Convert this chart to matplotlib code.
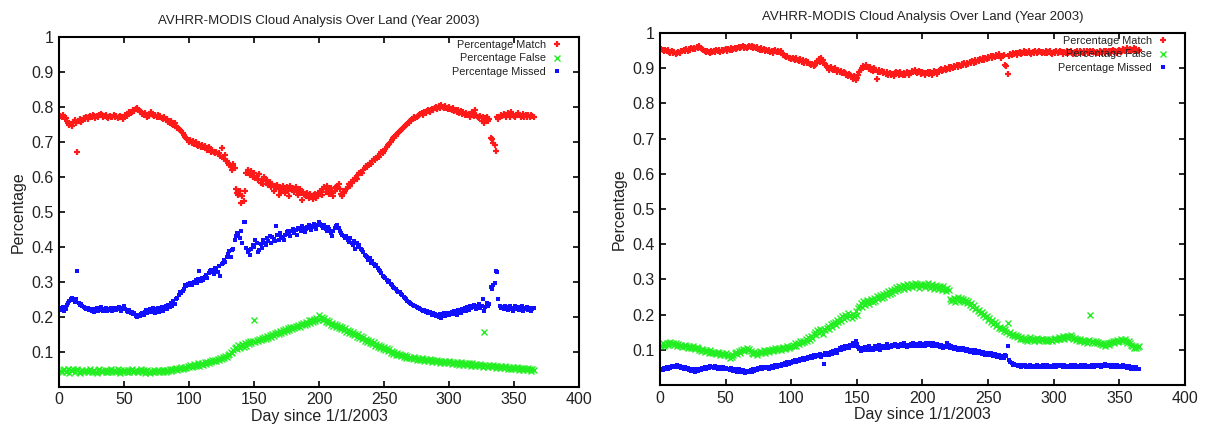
import numpy as np
import matplotlib
matplotlib.use("Agg")
import matplotlib.pyplot as plt

plt.rcParams['font.family'] = ['Liberation Sans', 'DejaVu Sans']

# daily fractions (x1000), day 1..365, land analysis, first run
left_match = [
    775, 770, 778, 772, 768, 760, 755, 748, 752, 745, 758, 762, 755, 670, 760, 765, 758, 762, 768, 765,
    770, 766, 772, 775, 770, 778, 774, 768, 775, 772, 778, 780, 776, 770, 774, 778, 772, 768, 775, 770,
    772, 776, 770, 774, 768, 772, 775, 770, 766, 772, 778, 775, 780, 784, 782, 786, 790, 788, 795, 798,
    792, 788, 785, 780, 776, 782, 778, 772, 775, 780, 784, 778, 774, 778, 772, 776, 770, 774, 768, 765,
    770, 762, 765, 758, 755, 760, 752, 748, 754, 745, 740, 738, 735, 730, 725, 720, 715, 710, 705, 700,
    704, 698, 702, 695, 700, 692, 688, 694, 686, 690, 684, 688, 682, 678, 684, 676, 672, 678, 670, 668,
    672, 664, 668, 660, 682, 656, 650, 662, 645, 640, 635, 628, 620, 638, 625, 565, 555, 548, 560, 525,
    545, 530, 560, 610, 620, 612, 605, 618, 600, 610, 596, 602, 590, 608, 584, 595, 580, 600, 588, 592,
    578, 585, 570, 580, 560, 574, 566, 578, 548, 572, 560, 575, 565, 555, 570, 560, 545, 575, 562, 568,
    556, 572, 560, 548, 565, 555, 535, 558, 548, 545, 555, 540, 550, 545, 538, 548, 552, 540, 545, 555,
    560, 548, 565, 570, 558, 575, 562, 550, 568, 556, 545, 560, 570, 575, 580, 565, 550, 545, 555, 560,
    565, 570, 580, 575, 585, 590, 588, 598, 595, 605, 610, 615, 612, 620, 625, 630, 628, 635, 640, 638,
    645, 650, 648, 655, 660, 658, 665, 670, 668, 675, 680, 685, 690, 695, 700, 705, 710, 715, 718, 722,
    725, 730, 735, 738, 742, 745, 748, 752, 755, 760, 762, 765, 770, 768, 772, 775, 778, 780, 782, 778,
    785, 782, 788, 790, 786, 792, 795, 790, 798, 800, 795, 802, 798, 805, 800, 796, 802, 798, 794, 800,
    795, 790, 796, 788, 792, 785, 790, 782, 788, 780, 785, 778, 782, 776, 780, 772, 778, 785, 775, 790,
    778, 772, 768, 775, 760, 770, 755, 768, 772, 760, 765, 712, 708, 698, 690, 675, 770, 765, 772, 778,
    774, 780, 776, 770, 782, 778, 772, 786, 780, 775, 770, 778, 782, 776, 770, 774, 780, 772, 776, 770,
    778, 772, 776, 774, 770,
]
left_false = [
    45, 42, 48, 50, 44, 46, 52, 40, 48, 45, 50, 43, 47, 52, 44, 40, 46, 49, 42, 45,
    48, 43, 46, 50, 42, 45, 48, 44, 41, 47, 50, 45, 42, 46, 49, 44, 47, 43, 46, 50,
    44, 48, 42, 46, 50, 45, 41, 47, 44, 49, 46, 42, 48, 44, 47, 50, 43, 46, 49, 45,
    42, 46, 50, 44, 48, 41, 45, 49, 43, 40, 46, 44, 48, 42, 45, 47, 43, 46, 49, 44,
    47, 43, 48, 45, 50, 46, 52, 48, 50, 55, 49, 53, 51, 56, 50, 54, 58, 55, 60, 57,
    62, 58, 60, 65, 59, 63, 67, 61, 65, 68, 64, 70, 66, 72, 68, 74, 70, 76, 73, 78,
    75, 80, 77, 82, 79, 85, 82, 88, 85, 92, 95, 100, 98, 105, 110, 115, 108, 120, 112, 118,
    122, 115, 125, 118, 128, 122, 130, 125, 132, 190, 128, 135, 130, 138, 133, 140, 136, 142, 138, 145,
    140, 148, 143, 150, 146, 155, 150, 158, 152, 160, 155, 162, 158, 165, 160, 168, 162, 170, 165, 172,
    168, 175, 170, 178, 172, 180, 176, 183, 178, 186, 180, 190, 184, 192, 186, 195, 188, 198, 192, 205,
    195, 200, 190, 196, 186, 192, 182, 188, 178, 184, 175, 180, 172, 178, 168, 174, 165, 170, 162, 168,
    158, 164, 155, 160, 150, 156, 148, 152, 144, 150, 140, 146, 136, 142, 132, 138, 128, 134, 125, 130,
    122, 127, 118, 124, 115, 120, 112, 117, 108, 114, 105, 110, 102, 107, 98, 104, 95, 100, 92, 97,
    90, 94, 88, 92, 85, 90, 84, 88, 82, 86, 84, 80, 85, 82, 78, 84, 80, 76, 82, 79,
    75, 80, 77, 73, 79, 76, 72, 78, 74, 70, 76, 73, 69, 75, 72, 68, 74, 71, 67, 73,
    70, 66, 72, 69, 65, 71, 68, 64, 70, 67, 63, 69, 66, 62, 68, 65, 61, 67, 64, 60,
    66, 63, 59, 65, 62, 58, 158, 64, 61, 57, 63, 60, 56, 62, 59, 55, 61, 58, 54, 60,
    57, 53, 59, 56, 52, 58, 55, 51, 57, 54, 50, 56, 53, 49, 55, 52, 48, 54, 51, 47,
    53, 50, 46, 52, 49,
]
left_missed = [
    225, 220, 228, 218, 222, 235, 240, 245, 250, 255, 248, 242, 250, 330, 240, 235, 238, 232, 228, 225,
    222, 226, 220, 224, 218, 222, 215, 220, 225, 218, 222, 228, 220, 216, 222, 226, 218, 224, 220, 225,
    218, 222, 226, 220, 224, 228, 222, 218, 225, 230, 222, 218, 215, 220, 212, 215, 208, 210, 202, 200,
    205, 202, 208, 210, 206, 215, 220, 212, 218, 222, 215, 225, 218, 212, 222, 226, 215, 220, 228, 218,
    225, 230, 222, 235, 228, 240, 232, 245, 238, 250, 255, 262, 270, 268, 275, 280, 290, 288, 295, 292,
    298, 290, 296, 300, 305, 298, 308, 330, 302, 310, 305, 315, 320, 312, 325, 330, 335, 328, 322, 340,
    335, 328, 345, 318, 350, 355, 362, 358, 370, 380, 388, 372, 390, 395, 420, 430, 440, 435, 425, 445,
    410, 472, 470, 398, 385, 390, 378, 395, 405, 400, 420, 410, 385, 392, 408, 396, 420, 412, 405, 425,
    418, 430, 410, 428, 422, 418, 460, 435, 420, 440, 428, 425, 420, 435, 442, 445, 438, 430, 445, 450,
    440, 448, 435, 455, 450, 445, 460, 455, 442, 450, 458, 462, 455, 448, 460, 465, 458, 452, 462, 470,
    465, 460, 455, 462, 450, 445, 458, 452, 440, 430, 445, 455, 460, 462, 455, 445, 440, 435, 430, 425,
    430, 420, 415, 425, 410, 405, 418, 395, 412, 400, 405, 395, 390, 385, 378, 375, 370, 362, 368, 355,
    360, 350, 345, 348, 340, 335, 330, 325, 318, 315, 310, 305, 300, 302, 295, 290, 285, 282, 280, 275,
    272, 270, 265, 262, 258, 255, 250, 245, 242, 240, 238, 235, 232, 230, 228, 226, 225, 222, 220, 218,
    220, 215, 218, 212, 215, 210, 205, 212, 208, 202, 205, 200, 208, 198, 204, 210, 202, 206, 212, 205,
    210, 215, 208, 218, 212, 205, 220, 214, 210, 222, 216, 225, 218, 228, 220, 232, 225, 230, 235, 228,
    222, 232, 238, 225, 230, 250, 218, 228, 240, 232, 236, 285, 280, 292, 298, 330, 328, 250, 232, 225,
    228, 222, 230, 226, 220, 228, 232, 224, 218, 226, 230, 222, 228, 220, 224, 230, 218, 226, 222, 228,
    220, 225, 218, 222, 226,
]

# second run
right_match = [
    955, 952, 950, 953, 948, 951, 946, 944, 948, 942, 945, 940, 944, 946, 942, 948, 950, 952, 948, 954,
    950, 955, 952, 957, 954, 958, 955, 960, 956, 962, 958, 955, 952, 948, 945, 950, 946, 942, 948, 945,
    950, 946, 952, 948, 951, 947, 953, 949, 952, 955, 950, 954, 951, 956, 952, 955, 958, 954, 957, 960,
    956, 959, 962, 958, 961, 957, 960, 963, 959, 962, 958, 961, 956, 959, 955, 952, 956, 951, 954, 950,
    953, 948, 952, 946, 950, 944, 948, 952, 946, 950, 945, 948, 942, 938, 935, 932, 936, 930, 928, 925,
    930, 926, 922, 928, 924, 920, 925, 918, 922, 916, 920, 914, 918, 912, 908, 912, 906, 910, 915, 920,
    925, 918, 930, 922, 915, 910, 905, 900, 896, 902, 898, 894, 900, 896, 890, 895, 888, 892, 885, 890,
    886, 882, 878, 884, 880, 875, 870, 878, 866, 872, 880, 888, 895, 900, 905, 902, 908, 904, 898, 902,
    896, 892, 900, 894, 870, 890, 895, 888, 892, 886, 890, 884, 888, 882, 886, 880, 884, 878, 885, 890,
    886, 882, 888, 884, 880, 886, 882, 890, 885, 880, 886, 892, 888, 894, 890, 886, 892, 888, 884, 890,
    886, 880, 885, 890, 884, 888, 882, 887, 892, 888, 884, 890, 894, 898, 892, 896, 900, 894, 898, 902,
    898, 904, 900, 906, 902, 908, 904, 910, 906, 912, 908, 914, 910, 916, 912, 918, 914, 920, 916, 922,
    918, 924, 920, 926, 922, 928, 924, 930, 926, 932, 928, 934, 930, 936, 932, 938, 934, 940, 936, 930,
    934, 938, 910, 905, 884, 935, 940, 938, 942, 940, 944, 938, 942, 946, 940, 944, 948, 942, 946, 944,
    948, 944, 940, 946, 942, 948, 944, 946, 950, 945, 942, 947, 944, 948, 943, 946, 950, 944, 940, 946,
    942, 948, 944, 946, 950, 945, 941, 947, 944, 948, 942, 946, 950, 944, 940, 946, 943, 948, 944, 950,
    946, 942, 948, 944, 950, 946, 942, 948, 945, 950, 946, 942, 947, 944, 950, 946, 942, 948, 944, 950,
    946, 950, 944, 948, 952, 946, 950, 944, 948, 952, 946, 950, 955, 948, 952, 956, 950, 954, 948, 952,
    956, 950, 954, 948, 952,
]
right_false = [
    112, 118, 110, 115, 120, 114, 118, 122, 116, 120, 114, 118, 112, 116, 110, 114, 108, 112, 115, 110,
    106, 112, 108, 104, 110, 106, 102, 108, 104, 100, 96, 102, 98, 94, 100, 96, 92, 98, 94, 90,
    95, 92, 88, 94, 90, 86, 92, 88, 84, 90, 86, 82, 78, 84, 80, 86, 90, 94, 88, 96,
    92, 98, 102, 96, 100, 104, 98, 102, 96, 92, 88, 94, 90, 86, 92, 96, 90, 94, 98, 92,
    96, 100, 94, 98, 102, 96, 100, 104, 98, 102, 106, 100, 104, 108, 102, 106, 110, 104, 108, 112,
    115, 110, 118, 112, 120, 116, 124, 118, 126, 122, 130, 125, 135, 128, 140, 134, 145, 150, 142, 155,
    148, 158, 152, 145, 160, 155, 162, 168, 158, 172, 165, 175, 180, 170, 185, 178, 190, 182, 195, 188,
    198, 192, 205, 195, 200, 190, 202, 196, 210, 200, 218, 225, 232, 222, 238, 228, 235, 242, 230, 238,
    245, 236, 248, 240, 252, 244, 250, 256, 246, 258, 250, 262, 255, 266, 258, 270, 262, 274, 266, 278,
    270, 282, 272, 278, 284, 274, 280, 286, 276, 282, 288, 278, 284, 290, 280, 286, 276, 284, 288, 280,
    286, 278, 284, 290, 282, 276, 286, 280, 274, 284, 278, 272, 282, 276, 270, 280, 274, 268, 276, 270,
    245, 238, 242, 248, 236, 244, 250, 240, 246, 238, 244, 236, 242, 232, 238, 228, 234, 222, 228, 215,
    220, 210, 214, 205, 208, 198, 202, 192, 196, 186, 190, 180, 184, 174, 178, 168, 172, 162, 166, 158,
    162, 154, 158, 150, 175, 145, 150, 142, 146, 138, 142, 135, 140, 132, 136, 130, 134, 128, 132, 126,
    130, 135, 128, 132, 126, 130, 134, 128, 125, 130, 127, 132, 128, 124, 130, 126, 132, 128, 125, 130,
    134, 128, 132, 136, 130, 134, 138, 132, 136, 140, 134, 138, 142, 136, 130, 134, 128, 132, 126, 130,
    125, 128, 122, 126, 120, 124, 128, 200, 122, 126, 120, 124, 118, 122, 116, 120, 114, 118, 112, 116,
    120, 114, 118, 122, 126, 120, 124, 128, 122, 126, 130, 124, 128, 132, 126, 120, 124, 118, 114, 110,
    106, 112, 104, 108, 110,
]
right_missed = [
    45, 42, 48, 44, 50, 46, 52, 48, 54, 50, 55, 52, 56, 50, 54, 48, 52, 46, 50, 44,
    48, 42, 46, 40, 44, 42, 38, 44, 40, 46, 42, 48, 44, 50, 46, 52, 48, 54, 50, 52,
    48, 54, 50, 46, 52, 48, 44, 50, 46, 48, 44, 46, 42, 48, 44, 40, 46, 42, 38, 44,
    40, 36, 42, 38, 34, 40, 36, 38, 42, 38, 44, 40, 46, 42, 48, 44, 50, 46, 48, 52,
    48, 52, 46, 50, 54, 48, 52, 56, 50, 55, 58, 54, 60, 56, 62, 58, 64, 60, 66, 62,
    68, 64, 70, 66, 72, 68, 74, 70, 76, 72, 78, 74, 80, 76, 82, 78, 84, 80, 86, 82,
    84, 88, 80, 86, 60, 90, 84, 92, 86, 94, 88, 96, 90, 98, 92, 100, 105, 98, 108, 102,
    110, 104, 112, 106, 115, 110, 118, 112, 124, 116, 108, 102, 96, 104, 100, 108, 98, 104, 110, 100,
    106, 98, 104, 110, 102, 108, 115, 100, 106, 112, 104, 110, 116, 106, 112, 108, 114, 110, 116, 112,
    108, 114, 110, 116, 112, 118, 112, 108, 114, 110, 116, 112, 118, 114, 110, 116, 112, 120, 114, 110,
    116, 112, 118, 114, 120, 116, 112, 118, 114, 110, 116, 112, 108, 114, 110, 106, 112, 108, 118, 114,
    104, 110, 106, 102, 108, 104, 100, 106, 102, 98, 104, 100, 96, 102, 98, 94, 100, 96, 92, 98,
    94, 90, 96, 92, 88, 94, 90, 86, 92, 88, 84, 90, 86, 82, 88, 84, 80, 86, 82, 78,
    82, 78, 84, 82, 110, 72, 66, 62, 58, 60, 56, 58, 54, 56, 52, 58, 54, 56, 52, 55,
    52, 56, 54, 50, 55, 52, 56, 53, 50, 55, 52, 57, 54, 51, 56, 53, 50, 55, 52, 57,
    54, 51, 56, 53, 58, 54, 51, 56, 53, 50, 55, 52, 57, 54, 51, 56, 53, 50, 55, 52,
    57, 54, 51, 56, 53, 50, 55, 52, 57, 54, 51, 56, 53, 58, 54, 51, 56, 53, 60, 56,
    53, 58, 55, 52, 57, 54, 51, 56, 53, 50, 55, 52, 57, 54, 51, 48, 53, 50, 46, 52,
    48, 45, 50, 46, 44,
]

days = np.arange(1, 366)
TITLE = "AVHRR-MODIS Cloud Analysis Over Land (Year 2003)"
TXT = '#222222'


def draw_panel(ax, match, false, missed):
    ax.plot(days, np.array(match) / 1000, '+', color='#ff1a1a', ms=4.2, mew=1.6,
            label='Percentage Match')
    ax.plot(days, np.array(false) / 1000, 'x', color='#22ee22', ms=3.8, mew=1.0,
            label='Percentage False')
    ax.plot(days, np.array(missed) / 1000, 's', color='#1010ff', ms=3.2, mew=0,
            label='Percentage Missed')
    ax.set_xlim(0, 400)
    ax.set_ylim(0, 1)
    ax.set_xticks(np.arange(0, 401, 50))
    yt = np.round(np.arange(0.1, 1.01, 0.1), 1)
    ax.set_yticks(yt)
    ax.set_yticklabels(['%g' % v for v in yt])
    ax.tick_params(direction='in', top=True, right=True, length=4, width=1.2,
                   labelsize=11.5, labelcolor=TXT, pad=4)
    for sp in ax.spines.values():
        sp.set_linewidth(1.5)
    ax.set_title(TITLE, fontsize=9.5, color=TXT, pad=9)
    ax.set_xlabel('Day since 1/1/2003', fontsize=11.5, color=TXT, labelpad=1)
    ax.set_ylabel('Percentage', fontsize=11.5, color=TXT, labelpad=4)
    ax.legend(loc='upper right', bbox_to_anchor=(0.974, 1.004), markerfirst=False,
              frameon=False, fontsize=7.8, handlelength=0.8, handletextpad=0.6,
              labelspacing=0.32, borderaxespad=0, labelcolor=TXT)


fig = plt.figure(figsize=(12.05, 4.28), dpi=100)
ax1 = fig.add_axes([0.049, 0.096, 0.4315, 0.8178])
ax2 = fig.add_axes([0.5477, 0.1005, 0.4357, 0.8224])
draw_panel(ax1, left_match, left_false, left_missed)
draw_panel(ax2, right_match, right_false, right_missed)

fig.savefig('out.png', dpi=100)
